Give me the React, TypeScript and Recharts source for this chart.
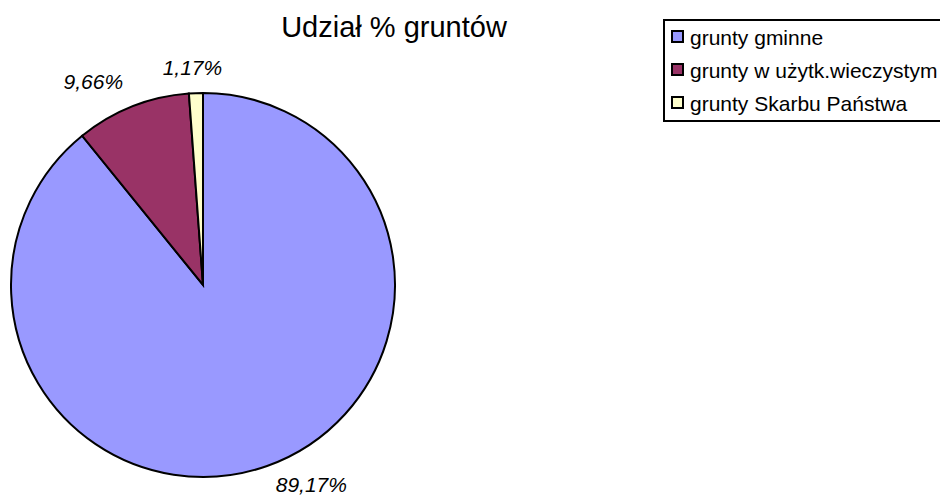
import React from 'react';
import { PieChart, Pie, Cell, Legend } from 'recharts';

const categories = ['grunty gminne', 'grunty w użytk.wieczystym', 'grunty Skarbu Państwa'];
const shares = [89.17, 9.66, 1.17];
const colors = ['#9999FF', '#993366', '#FFFFCC'];
const title = 'Udział % gruntów';

const data = categories.map((name, i) => ({ name, value: shares[i] }));

const FONT = '"Liberation Sans", Arial, Helvetica, sans-serif';
const RAD = Math.PI / 180;

const fmt = (v: number) => v.toFixed(2).replace('.', ',') + '%';

const renderLabel = (props: any) => {
  const { cx, cy, midAngle, outerRadius, value } = props;
  const R = outerRadius + 14;
  const c = Math.cos(-midAngle * RAD);
  const s = Math.sin(-midAngle * RAD);
  const px = cx + R * c;
  const py = cy + R * s;
  let anchor: 'start' | 'end' | 'middle' = 'middle';
  let x = px;
  if (c > 0.1) {
    anchor = 'start';
    x = px + 4;
  } else if (c < -0.1) {
    anchor = 'end';
    x = px - 4;
  } else {
    x = px - 3;
  }
  const y = s > 0 ? py + 13 : py - 4;
  return (
    <text
      x={x}
      y={y}
      textAnchor={anchor}
      fontFamily={FONT}
      fontSize={21}
      fontStyle="italic"
      fill="#000"
    >
      {fmt(value)}
    </text>
  );
};

const renderLegend = () => (
  <div
    style={{
      boxSizing: 'border-box',
      width: 300,
      height: 103,
      border: '2px solid #000',
      background: '#fff',
      fontFamily: FONT,
      fontSize: 21,
      color: '#000',
      position: 'relative',
    }}
  >
    {categories.map((name, i) => (
      <div
        key={name}
        style={{ position: 'relative', height: 33, lineHeight: '33px', whiteSpace: 'nowrap' }}
      >
        <span
          style={{
            position: 'absolute',
            left: 6,
            top: 9,
            width: 13,
            height: 13,
            boxSizing: 'border-box',
            border: '2px solid #000',
            background: colors[i],
          }}
        />
        <span style={{ position: 'absolute', left: 25, top: 0 }}>{name}</span>
      </div>
    ))}
  </div>
);

export default function App() {
  return (
    <div
      style={{
        position: 'absolute',
        left: 0,
        top: 0,
        width: 940,
        height: 497,
        overflow: 'hidden',
        background: '#fff',
      }}
    >
      <div
        style={{
          position: 'absolute',
          left: 0,
          width: 788,
          top: 13,
          textAlign: 'center',
          fontFamily: FONT,
          fontSize: 29,
          lineHeight: '29px',
          color: '#000',
          whiteSpace: 'nowrap',
          zIndex: 2,
        }}
      >
        {title}
      </div>
      <PieChart width={940} height={497} margin={{ top: 0, right: 0, bottom: 0, left: 0 }}>
        <Pie
          data={data}
          dataKey="value"
          nameKey="name"
          cx={203}
          cy={285}
          outerRadius={192}
          startAngle={90}
          endAngle={-270}
          stroke="#000"
          strokeWidth={2}
          label={renderLabel}
          labelLine={false}
          isAnimationActive={false}
        >
          {data.map((d, i) => (
            <Cell key={d.name} fill={colors[i]} stroke="#000" strokeWidth={2} />
          ))}
        </Pie>
        <Legend
          content={renderLegend}
          wrapperStyle={{ position: 'absolute', left: 663, top: 19, width: 300, height: 103 }}
        />
      </PieChart>
    </div>
  );
}
